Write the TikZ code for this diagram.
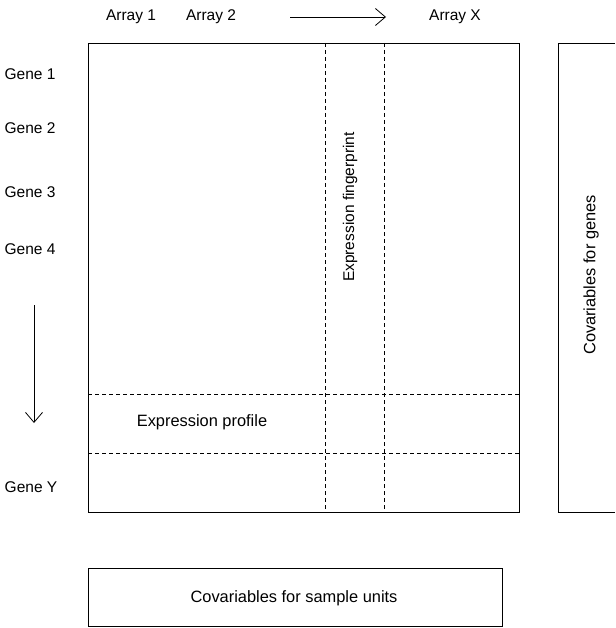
\documentclass[tikz,border=0pt]{standalone}
\usepackage{fontspec}
\setmainfont{Liberation Sans}
\usetikzlibrary{arrows.meta}
\begin{document}
\begin{tikzpicture}[x=1pt,y=-1pt,
  lbl/.style={inner sep=0pt,font=\fontsize{15.5}{18}\selectfont},
  biglbl/.style={inner sep=0pt,font=\fontsize{16.4}{19}\selectfont},
  solidbox/.style={draw=black,line width=0.9pt},
  dashline/.style={draw=black,line width=0.8pt,dash pattern=on 4pt off 3pt},
  arr/.style={draw=black,line width=0.8pt,-{Straight Barb[length=10pt,width=17pt,line width=0.8pt]}}]
\useasboundingbox (0,0) rectangle (615,628);
% main box
\draw[solidbox] (88,43) rectangle (519,512);
\coordinate (v1t) at (325,43); \coordinate (v1b) at (325,512);
\coordinate (v2t) at (384,43); \coordinate (v2b) at (384,512);
\coordinate (h1l) at (88,394); \coordinate (h1r) at (519,394);
\coordinate (h2l) at (88,453); \coordinate (h2r) at (519,453);
\draw[dashline] (v1t) -- (v1b);
\draw[dashline,line width=0.6pt] (v2t) -- (v2b);
\draw[dashline] (h1l) -- (h1r);
\draw[dashline] (h2l) -- (h2r);
% right box (open to the right edge)
\draw[solidbox] (615,43) -- (558,43) -- (558,512) -- (615,512);
% bottom box
\draw[solidbox] (88,568) rectangle (502,626);
% labels
\node[lbl] (a1) at (131,17) {Array 1};
\node[lbl] (a2) at (211,17) {Array 2};
\node[lbl] (ax) at (455,17) {Array X};
\coordinate (hs) at (290,17); \coordinate (he) at (386,17);
\draw[arr] (hs) -- (he);
\node[lbl] (g1) at (30,74) {Gene 1};
\node[lbl] (g2) at (30,128) {Gene 2};
\node[lbl] (g3) at (30,192) {Gene 3};
\node[lbl] (g4) at (30,249) {Gene 4};
\node[lbl] (gy) at (31,487) {Gene Y};
\coordinate (vs) at (34,305); \coordinate (ve) at (34,423);
\draw[arr] (vs) -- (ve);
\node[biglbl] (ep) at (202,422) {Expression profile};
\node[lbl,rotate=90] (ef) at (350,207) {Expression fingerprint};
\node[biglbl,rotate=90] (cg) at (591,275) {Covariables for genes};
\node[biglbl] (cs) at (294,598) {Covariables for sample units};
\end{tikzpicture}
\end{document}
